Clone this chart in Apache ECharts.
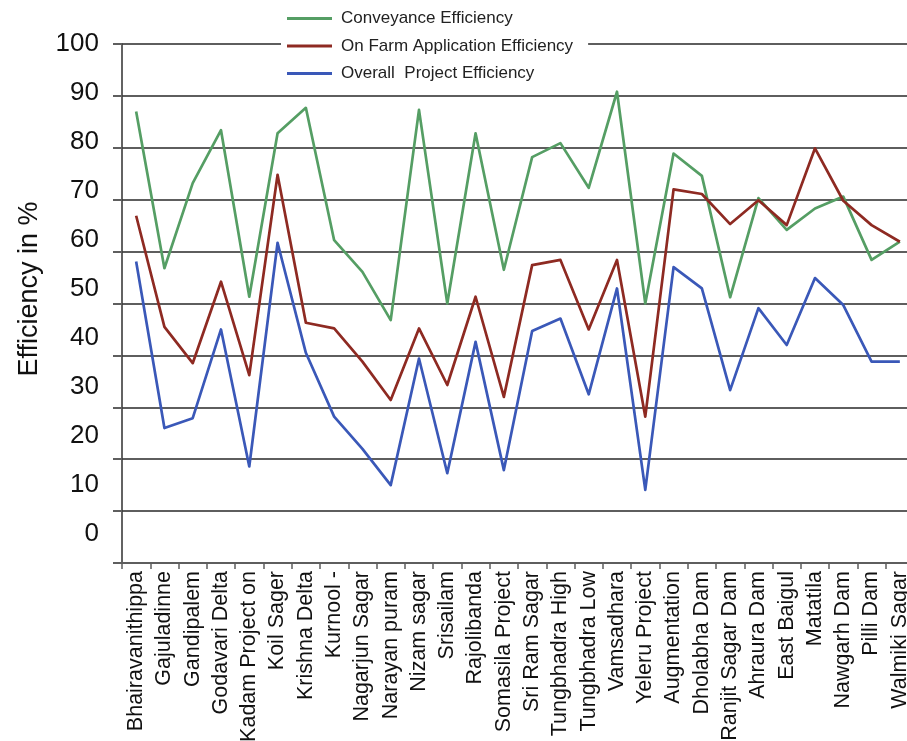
<!DOCTYPE html>
<html>
<head>
<meta charset="utf-8">
<script src="https://cdn.jsdelivr.net/npm/echarts@6/dist/echarts.min.js"></script>
<style>
html,body{margin:0;padding:0;background:#fff;}
#chart{width:907px;height:741px;}
</style>
</head>
<body>
<div id="chart"></div>
<script>
const categories = ["Bhairavanithippa","Gajuladinne","Gandipalem","Godavari Delta","Kadam Project on","Koil Sager","Krishna Delta","Kurnool -","Nagarjun Sagar","Narayan puram","Nizam sagar","Srisailam","Rajolibanda","Somasila Project","Sri Ram Sagar","Tungbhadra High","Tungbhadra Low","Vamsadhara","Yeleru Project","Augmentation","Dholabha Dam","Ranjit Sagar Dam","Ahraura Dam","East Baigul","Matatila","Nawgarh Dam","Pilli Dam","Walmiki Sagar"];
const conveyance = [87.0, 56.8, 73.2, 83.4, 51.3, 82.8, 87.7, 62.2, 56.1, 46.8, 87.3, 50.0, 82.8, 56.5, 78.2, 80.9, 72.3, 90.8, 50.0, 78.9, 74.6, 51.2, 70.3, 64.2, 68.3, 70.6, 58.4, 61.9];
const onFarm = [66.9, 45.5, 38.5, 54.2, 36.2, 74.8, 46.3, 45.2, 38.8, 31.4, 45.2, 34.3, 51.3, 32.0, 57.4, 58.4, 45.0, 58.4, 28.2, 72.0, 71.1, 65.3, 69.9, 65.1, 79.9, 69.8, 65.1, 61.9];
const overall = [58.1, 26.0, 27.9, 45.0, 18.6, 61.7, 40.5, 28.2, 22.0, 15.0, 39.4, 17.3, 42.6, 17.9, 44.7, 47.1, 32.5, 52.9, 14.1, 57.0, 52.9, 33.3, 49.1, 42.0, 54.9, 49.7, 38.8, 38.8];
const seriesNames = ["Conveyance Efficiency", "On Farm Application Efficiency", "Overall  Project Efficiency"];
const yMin = 0, yMax = 100, yStep = 10;

const FONT = "'Liberation Sans', Arial, sans-serif";
const GRID_COLOR = '#5e5e5e';
const colors = ['#559e64', '#8e2a22', '#3a58b8'];

const chart = echarts.init(document.getElementById('chart'), null, {renderer: 'canvas'});
const mkLine = (name, data, color) => ({
  name: name, type: 'line', data: data, xAxisIndex: 0, yAxisIndex: 0,
  symbol: 'none', smooth: false, z: 3,
  lineStyle: {color: color, width: 2.7, join: 'round'},
  itemStyle: {color: color},
  emphasis: {disabled: true}
});
chart.setOption({
  animation: false,
  backgroundColor: '#fff',
  textStyle: {fontFamily: FONT},
  legend: {
    orient: 'vertical',
    left: 281, top: 5,
    padding: [5, 15, 5, 6],
    backgroundColor: '#fff',
    icon: 'rect',
    itemWidth: 45, itemHeight: 3, itemGap: 10.5,
    z: 10,
    textStyle: {fontFamily: FONT, fontSize: 17, color: '#222', lineHeight: 16, padding: [0, 0, 0, 4]},
    data: seriesNames.map((n, i) => ({name: n, itemStyle: {color: colors[i]}}))
  },
  grid: [
    {left: 122, top: 44, width: 792, height: 519, outerBoundsMode: 'none', containLabel: false},
    {left: 122, top: 44, width: 10, height: 490, outerBoundsMode: 'none', containLabel: false}
  ],
  xAxis: [
    {
      type: 'category', gridIndex: 0, data: categories, boundaryGap: true,
      axisLine: {show: true, lineStyle: {color: GRID_COLOR, width: 2}},
      axisTick: {show: true, length: 6, lineStyle: {color: GRID_COLOR, width: 1.5}},
      axisLabel: {rotate: 90, interval: 0, margin: 8, fontFamily: FONT, fontSize: 21.5, color: '#111'},
      splitLine: {show: false}
    },
    {type: 'category', gridIndex: 1, data: [''], show: false}
  ],
  yAxis: [
    {
      type: 'value', gridIndex: 0, min: yMin, max: yMax, interval: yStep,
      axisLine: {show: true, lineStyle: {color: '#3c3c3c', width: 1.6}},
      axisTick: {show: true, length: 9, lineStyle: {color: GRID_COLOR, width: 2}},
      axisLabel: {show: false},
      splitLine: {show: true, lineStyle: {color: GRID_COLOR, width: 2}}
    },
    {
      type: 'value', gridIndex: 1, min: yMin, max: yMax, interval: yStep,
      name: 'Efficiency in %', nameLocation: 'middle', nameGap: 79,
      nameTextStyle: {fontFamily: FONT, fontSize: 27, color: '#111'},
      axisLine: {show: false}, axisTick: {show: false}, splitLine: {show: false},
      axisLabel: {margin: 23, fontFamily: FONT, fontSize: 26, color: '#111'}
    }
  ],
  series: [
    mkLine(seriesNames[0], conveyance, colors[0]),
    mkLine(seriesNames[1], onFarm, colors[1]),
    mkLine(seriesNames[2], overall, colors[2])
  ]
});
</script>
</body>
</html>
